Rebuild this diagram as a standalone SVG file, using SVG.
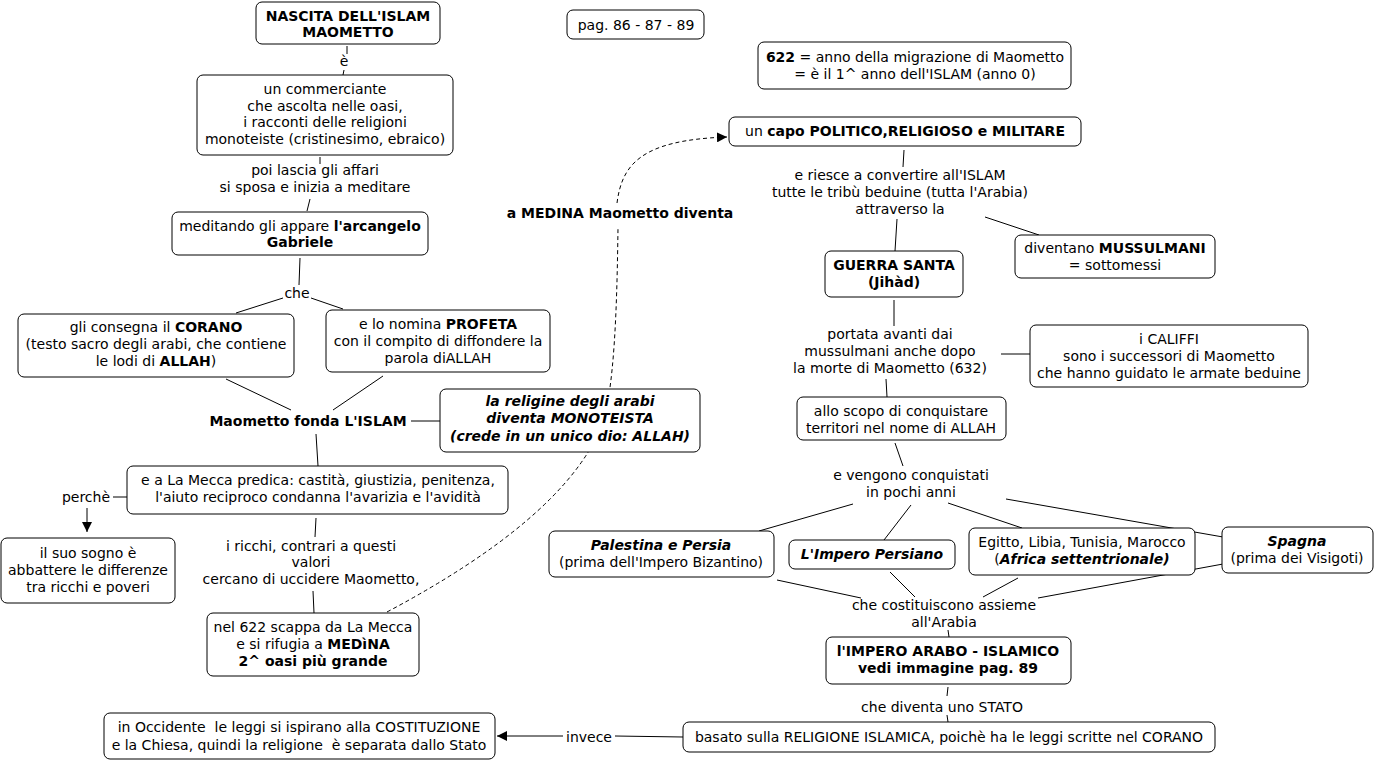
<svg xmlns="http://www.w3.org/2000/svg" width="1377" height="761" viewBox="0 0 1377 761">
<style>
text{font-family:"DejaVu Sans","Verdana",sans-serif;font-size:14px;fill:#000;text-anchor:middle;white-space:pre}
.b{font-weight:bold}
.bi{font-weight:bold;font-style:italic}
.box{fill:#fff;stroke:#000;stroke-width:1}
.ln{stroke:#000;stroke-width:1;fill:none}
.dash{stroke:#000;stroke-width:1;fill:none;stroke-dasharray:4 3}
</style>
<defs>
<marker id="ar" viewBox="0 0 10 10" refX="10" refY="5" markerWidth="10" markerHeight="10" markerUnits="userSpaceOnUse" orient="auto">
<path d="M0,0 L10,5 L0,10 z" fill="#000"/>
</marker>
</defs>
<rect width="1377" height="761" fill="#fff"/>
<g id="connectors">
<line class="ln" x1="347" y1="46" x2="347" y2="54"/>
<line class="ln" x1="344" y1="70" x2="343" y2="75"/>
<line class="ln" x1="320" y1="157" x2="320" y2="164"/>
<line class="ln" x1="310" y1="199" x2="307" y2="211"/>
<line class="ln" x1="300" y1="258" x2="299" y2="285"/>
<line class="ln" x1="283" y1="298" x2="236" y2="313"/>
<line class="ln" x1="311" y1="298" x2="343" y2="309"/>
<line class="ln" x1="226" y1="379" x2="291" y2="410"/>
<line class="ln" x1="383" y1="376" x2="333" y2="410"/>
<line class="ln" x1="411" y1="421" x2="440" y2="421"/>
<line class="ln" x1="316" y1="434" x2="318" y2="466"/>
<line class="ln" x1="113" y1="497" x2="127" y2="497"/>
<line class="ln" x1="87" y1="508" x2="87" y2="532" marker-end="url(#ar)"/>
<line class="ln" x1="316" y1="518" x2="315" y2="537"/>
<line class="ln" x1="313" y1="591" x2="314" y2="613"/>
<path class="dash" d="M387,612 Q560,520 600,430 C615,396 617,300 618,228"/>
<path class="dash" d="M617,203 C622,165 640,140 727,137" marker-end="url(#ar)"/>
<line class="ln" x1="904" y1="150" x2="903" y2="167"/>
<line class="ln" x1="897" y1="219" x2="895" y2="251"/>
<line class="ln" x1="985" y1="217" x2="1039" y2="235"/>
<line class="ln" x1="894" y1="300" x2="894" y2="326"/>
<line class="ln" x1="1001" y1="354" x2="1030" y2="354"/>
<line class="ln" x1="886" y1="379" x2="887" y2="397"/>
<line class="ln" x1="895" y1="443" x2="903" y2="466"/>
<line class="ln" x1="853" y1="504" x2="759" y2="531"/>
<line class="ln" x1="911" y1="505" x2="884" y2="540"/>
<line class="ln" x1="948" y1="503" x2="1022" y2="528"/>
<line class="ln" x1="1006" y1="499" x2="1223" y2="537"/>
<line class="ln" x1="777" y1="580" x2="861" y2="598"/>
<line class="ln" x1="890" y1="572" x2="915" y2="597"/>
<line class="ln" x1="1018" y1="578" x2="983" y2="597"/>
<line class="ln" x1="1223" y1="564" x2="1038" y2="598"/>
<line class="ln" x1="948" y1="630" x2="949" y2="637"/>
<line class="ln" x1="948" y1="687" x2="947" y2="696"/>
<line class="ln" x1="947" y1="715" x2="948" y2="722"/>
<line class="ln" x1="683" y1="737" x2="615" y2="736"/>
<line class="ln" x1="563" y1="736" x2="497" y2="736" marker-end="url(#ar)"/>
</g>
<g id="n-nascita"><rect class="box" x="256" y="2" width="184" height="42" rx="6"/><text x="348" y="21" class="b">NASCITA DELL'ISLAM</text><text x="348" y="37" class="b">MAOMETTO</text></g>
<g id="l-e"><text x="344" y="66">è</text></g>
<g id="n-commerciante"><rect class="box" x="197" y="75" width="256" height="80" rx="6"/><text x="325" y="94">un commerciante</text><text x="325" y="111">che ascolta nelle oasi,</text><text x="325" y="127">i racconti delle religioni</text><text x="325" y="144">monoteiste (cristinesimo, ebraico)</text></g>
<g id="l-poi"><text x="315" y="175">poi lascia gli affari</text><text x="315" y="192">si sposa e inizia a meditare</text></g>
<g id="n-meditando"><rect class="box" x="172" y="212" width="256" height="43" rx="6"/><text x="300" y="231">meditando gli appare <tspan class="b">l'arcangelo</tspan></text><text x="300" y="247" class="b">Gabriele</text></g>
<g id="l-che"><text x="297" y="298">che</text></g>
<g id="n-corano"><rect class="box" x="18" y="314" width="276" height="63" rx="6"/><text x="156" y="332">gli consegna il <tspan class="b">CORANO</tspan></text><text x="156" y="349">(testo sacro degli arabi, che contiene</text><text x="156" y="366">le lodi di <tspan class="b">ALLAH</tspan>)</text></g>
<g id="n-profeta"><rect class="box" x="326" y="310" width="224" height="62" rx="6"/><text x="438" y="329">e lo nomina <tspan class="b">PROFETA</tspan></text><text x="438" y="346">con il compito di diffondere la</text><text x="438" y="363">parola diALLAH</text></g>
<g id="l-fonda"><text x="308" y="426" class="b">Maometto fonda L'ISLAM</text></g>
<g id="n-religine"><rect class="box" x="440" y="389" width="260" height="63" rx="6"/><text x="570" y="406" class="bi">la religine degli arabi</text><text x="570" y="423" class="bi">diventa MONOTEISTA</text><text x="570" y="441" class="bi">(crede in un unico dio: ALLAH)</text></g>
<g id="n-mecca"><rect class="box" x="127" y="466" width="381" height="48" rx="6"/><text x="318" y="485">e a La Mecca predica: castità, giustizia, penitenza,</text><text x="318" y="502">l'aiuto reciproco condanna l'avarizia e l'avidità</text></g>
<g id="l-perche"><text x="86" y="502">perchè</text></g>
<g id="n-sogno"><rect class="box" x="1" y="538" width="174" height="65" rx="6"/><text x="88" y="558">il suo sogno è</text><text x="88" y="575">abbattere le differenze</text><text x="88" y="592">tra ricchi e poveri</text></g>
<g id="l-ricchi"><text x="311" y="551">i ricchi, contrari a questi</text><text x="311" y="567">valori</text><text x="311" y="584">cercano di uccidere Maometto,</text></g>
<g id="n-scappa"><rect class="box" x="207" y="613" width="212" height="63" rx="6"/><text x="313" y="632">nel 622 scappa da La Mecca</text><text x="313" y="649">e si rifugia a <tspan class="b">MEDìNA</tspan></text><text x="313" y="666" class="b">2^ oasi più grande</text></g>
<g id="l-medina"><text x="620" y="218" class="b">a MEDINA Maometto diventa</text></g>
<g id="n-pag"><rect class="box" x="567" y="10" width="137" height="29" rx="6"/><text x="636" y="30">pag. 86 - 87 - 89</text></g>
<g id="n-622"><rect class="box" x="758" y="42" width="313" height="47" rx="6"/><text x="915" y="62"><tspan class="b">622</tspan> = anno della migrazione di Maometto</text><text x="915" y="79">= è il 1^ anno dell'ISLAM (anno 0)</text></g>
<g id="n-capo"><rect class="box" x="729" y="117" width="352" height="29" rx="6"/><text x="905" y="136">un <tspan class="b">capo POLITICO,RELIGIOSO e MILITARE</tspan></text></g>
<g id="l-riesce"><text x="900" y="180">e riesce a convertire all'ISLAM</text><text x="900" y="197">tutte le tribù beduine (tutta l'Arabia)</text><text x="900" y="214">attraverso la</text></g>
<g id="n-guerra"><rect class="box" x="825" y="251" width="138" height="46" rx="6"/><text x="894" y="270" class="b">GUERRA SANTA</text><text x="894" y="287" class="b">(Jihàd)</text></g>
<g id="n-mussulmani"><rect class="box" x="1015" y="235" width="200" height="43" rx="6"/><text x="1115" y="253">diventano <tspan class="b">MUSSULMANI</tspan></text><text x="1115" y="270">= sottomessi</text></g>
<g id="l-portata"><text x="890" y="339">portata avanti dai</text><text x="890" y="356">mussulmani anche dopo</text><text x="890" y="373">la morte di Maometto (632)</text></g>
<g id="n-califfi"><rect class="box" x="1030" y="325" width="278" height="62" rx="6"/><text x="1169" y="344">i CALIFFI</text><text x="1169" y="361">sono i successori di Maometto</text><text x="1169" y="378">che hanno guidato le armate beduine</text></g>
<g id="n-scopo"><rect class="box" x="797" y="397" width="209" height="43" rx="6"/><text x="901" y="416">allo scopo di conquistare</text><text x="901" y="433">territori nel nome di ALLAH</text></g>
<g id="l-vengono"><text x="911" y="480">e vengono conquistati</text><text x="911" y="497">in pochi anni</text></g>
<g id="n-palestina"><rect class="box" x="549" y="531" width="225" height="46" rx="6"/><text x="661" y="550" class="bi">Palestina e Persia</text><text x="661" y="567">(prima dell'Impero Bizantino)</text></g>
<g id="n-persiano"><rect class="box" x="789" y="540" width="166" height="29" rx="6"/><text x="872" y="559" class="bi">L'Impero Persiano</text></g>
<g id="n-egitto"><rect class="box" x="969" y="528" width="226" height="47" rx="6"/><text x="1082" y="547">Egitto, Libia, Tunisia, Marocco</text><text x="1082" y="564">(<tspan class="bi">Africa settentrionale)</tspan></text></g>
<g id="n-spagna"><rect class="box" x="1222" y="527" width="151" height="46" rx="6"/><text x="1297" y="546" class="bi">Spagna</text><text x="1297" y="563">(prima dei Visigoti)</text></g>
<g id="l-costituiscono"><text x="944" y="610">che costituiscono assieme</text><text x="944" y="627">all'Arabia</text></g>
<g id="n-impero"><rect class="box" x="826" y="637" width="245" height="47" rx="6"/><text x="948" y="656" class="b">l'IMPERO ARABO - ISLAMICO</text><text x="948" y="673" class="b">vedi immagine pag. 89</text></g>
<g id="l-stato"><text x="942" y="712">che diventa uno STATO</text></g>
<g id="n-basato"><rect class="box" x="683" y="722" width="532" height="30" rx="6"/><text x="949" y="742">basato sulla RELIGIONE ISLAMICA, poichè ha le leggi scritte nel CORANO</text></g>
<g id="l-invece"><text x="589" y="742">invece</text></g>
<g id="n-occidente"><rect class="box" x="104" y="713" width="391" height="46" rx="6"/><text x="299" y="732">in Occidente  le leggi si ispirano alla COSTITUZIONE</text><text x="299" y="750">e la Chiesa, quindi la religione  è separata dallo Stato</text></g>
</svg>
